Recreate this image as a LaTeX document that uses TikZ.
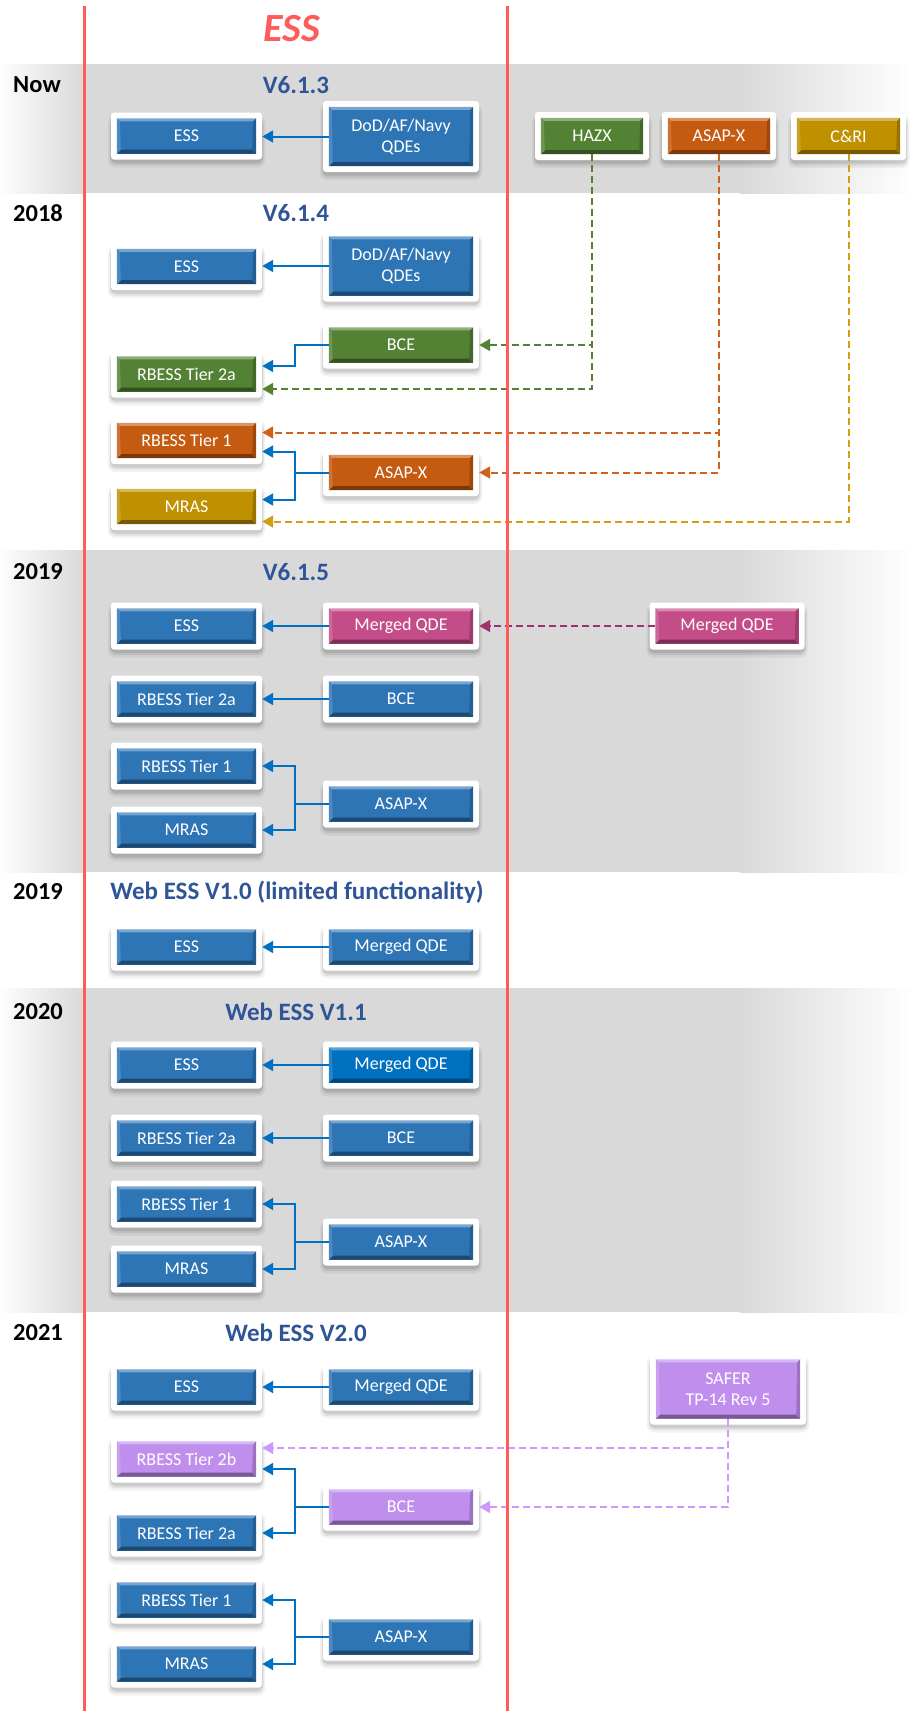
\documentclass[tikz,border=0pt]{standalone}
\usepackage{fontspec}
\setmainfont{Carlito}
\usetikzlibrary{arrows.meta,calc}
\definecolor{bandgray}{RGB}{217,217,217}
\definecolor{redline}{RGB}{255,91,91}
\definecolor{titleblue}{RGB}{47,85,151}
\definecolor{connblue}{RGB}{0,112,192}
\definecolor{boxblue}{RGB}{46,117,182}
\definecolor{boxbluetwo}{RGB}{0,112,192}
\definecolor{boxgreen}{RGB}{84,130,53}
\definecolor{boxorange}{RGB}{197,90,17}
\definecolor{boxgold}{RGB}{191,144,0}
\definecolor{boxmag}{RGB}{196,76,136}
\definecolor{boxpurple}{RGB}{192,143,238}
\definecolor{dgreen}{RGB}{84,130,53}
\definecolor{dorange}{RGB}{205,100,30}
\definecolor{dgold}{RGB}{210,158,20}
\definecolor{dmag}{RGB}{160,48,110}
\definecolor{dpurple}{RGB}{204,153,255}

\tikzset{
  qb/.style={rectangle, inner sep=0pt, text=white, font=\fontsize{18}{21}\selectfont, align=center},
  conn/.style={draw=connblue, line width=2pt, -{Triangle[length=11pt,width=12pt]}, shorten >=6pt},
  dconn/.style={line width=2pt, dash pattern=on 7pt off 4pt, -{Triangle[length=11pt,width=12pt]}, shorten >=6pt},
  yearlbl/.style={anchor=west, font=\fontsize{24.5}{27}\selectfont\bfseries, text=black, inner sep=0pt},
  ttl/.style={font=\fontsize{25}{28}\selectfont\bfseries, text=titleblue, inner sep=0pt},
}

% #1 height (optional), #2 name, #3 x, #4 y, #5 width, #6 colour, #7 text
\newcommand\qbox[7][35]{%
  \begin{scope}[shift={(#3,#4)}]
    \fill[black,opacity=0.05,rounded corners=7] (-#5/2-9,-#1/2-3) rectangle (#5/2+9,#1/2+14);
    \fill[black,opacity=0.07,rounded corners=6] (-#5/2-7.5,-#1/2-1) rectangle (#5/2+7.5,#1/2+11.5);
    \fill[black,opacity=0.09,rounded corners=5] (-#5/2-6.5,-#1/2+1) rectangle (#5/2+6.5,#1/2+9.5);
    \fill[white,rounded corners=3] (-#5/2-6,-#1/2-6) rectangle (#5/2+6,#1/2+6);
  \end{scope}
  \node[qb, fill=#6, minimum width=#5pt, minimum height=#1pt] (#2) at (#3,#4) {#7};
  \fill[#6!65!white] (#2.north west) -- (#2.north east) -- ([shift={(-3pt,-3pt)}]#2.north east) -- ([shift={(3pt,-3pt)}]#2.north west) -- cycle;
  \fill[#6!62!black] (#2.south west) -- (#2.south east) -- ([shift={(-4pt,4pt)}]#2.south east) -- ([shift={(4pt,4pt)}]#2.south west) -- cycle;
  \fill[#6!85!white] (#2.north west) -- ([shift={(3pt,-3pt)}]#2.north west) -- ([shift={(4pt,4pt)}]#2.south west) -- (#2.south west) -- cycle;
  \fill[#6!80!black] (#2.north east) -- ([shift={(-3pt,-3pt)}]#2.north east) -- ([shift={(-4pt,4pt)}]#2.south east) -- (#2.south east) -- cycle;
}

\newcommand\band[2]{%
  \fill[bandgray] (85,#1) rectangle (740,#2);
  \shade[left color=white!96!bandgray, right color=bandgray] (0,#1) rectangle (85.5,#2);
  \shade[left color=bandgray, right color=white!96!bandgray] (739.5,#1) rectangle (910,#2);
}

\begin{document}
\begin{tikzpicture}[x=1pt,y=-1pt]
\useasboundingbox (0,0) rectangle (910,1711);
\fill[white] (0,0) rectangle (910,1711);

% bands
\band{64}{193}
\band{550}{872}
\band{988}{1312}

% header
\node[font=\fontsize{40}{44}\selectfont\bfseries\itshape, text=redline, inner sep=0pt] (esstitle) at (292,29) {ESS};

% year labels
\node[yearlbl] (ynow) at (13,85) {Now};
\node[yearlbl] (y18) at (13,213) {2018};
\node[yearlbl] (y19) at (13,572) {2019};
\node[yearlbl] (y19w) at (13,892) {2019};
\node[yearlbl] (y20) at (13,1012) {2020};
\node[yearlbl] (y21) at (13,1333) {2021};

% titles
\node[ttl] (t0) at (296,85) {V6.1.3};
\node[ttl] (t1) at (296,213) {V6.1.4};
\node[ttl] (t2) at (296,572) {V6.1.5};
\node[ttl] (t3) at (297,892) {Web ESS V1.0 (limited functionality)};
\node[ttl] (t4) at (296,1012) {Web ESS V1.1};
\node[ttl] (t5) at (296,1333) {Web ESS V2.0};

% Now
\qbox{n0ess}{186.5}{136}{139}{boxblue}{ESS}
\qbox[59]{n0dod}{401}{136.5}{144}{boxblue}{DoD/AF/Navy\\QDEs}
\qbox[36]{hazx}{592}{136}{102}{boxgreen}{HAZX}
\qbox[36]{asapx}{719}{136}{102}{boxorange}{ASAP-X}
\qbox[36]{cri}{848.5}{136}{103}{boxgold}{C\&RI}

% 2018
\qbox{aess}{186.5}{266.5}{139}{boxblue}{ESS}
\qbox[59]{adod}{401}{266}{144}{boxblue}{DoD/AF/Navy\\QDEs}
\qbox{abce}{401}{345}{144}{boxgreen}{BCE}
\qbox{atwoa}{186.5}{374}{139}{boxgreen}{RBESS Tier 2a}
\qbox{aone}{186.5}{440.5}{139}{boxorange}{RBESS Tier 1}
\qbox{aasap}{401}{472.5}{144}{boxorange}{ASAP-X}
\qbox{amras}{186.5}{506.5}{139}{boxgold}{MRAS}

% 2019
\qbox{bess}{186.5}{626}{139}{boxblue}{ESS}
\qbox{bmqde}{401}{626}{144}{boxmag}{Merged QDE}
\qbox{xmqde}{727}{626}{143}{boxmag}{Merged QDE}
\qbox{btwoa}{186.5}{699}{139}{boxblue}{RBESS Tier 2a}
\qbox{bbce}{401}{699}{144}{boxblue}{BCE}
\qbox{bone}{186.5}{766}{139}{boxblue}{RBESS Tier 1}
\qbox{basap}{401}{804}{144}{boxblue}{ASAP-X}
\qbox{bmras}{186.5}{830}{139}{boxblue}{MRAS}

% 2019 web
\qbox{cess}{186.5}{947}{139}{boxblue}{ESS}
\qbox{cmqde}{401}{947}{144}{boxblue}{Merged QDE}

% 2020
\qbox{dess}{186.5}{1065}{139}{boxblue}{ESS}
\qbox{dmqde}{401}{1065}{144}{boxbluetwo}{Merged QDE}
\qbox{dtwoa}{186.5}{1138}{139}{boxblue}{RBESS Tier 2a}
\qbox{dbce}{401}{1138}{144}{boxblue}{BCE}
\qbox{done}{186.5}{1204}{139}{boxblue}{RBESS Tier 1}
\qbox{dasap}{401}{1242}{144}{boxblue}{ASAP-X}
\qbox{dmras}{186.5}{1269}{139}{boxblue}{MRAS}

% 2021
\qbox{eess}{186.5}{1387}{139}{boxblue}{ESS}
\qbox{emqde}{401}{1387}{144}{boxblue}{Merged QDE}
\qbox[59]{safer}{728}{1389}{144}{boxpurple}{SAFER\\TP-14 Rev 5}
\qbox{etwob}{186.5}{1459}{139}{boxpurple}{RBESS Tier 2b}
\qbox{ebce}{401}{1507}{144}{boxpurple}{BCE}
\qbox{etwoa}{186.5}{1533}{139}{boxblue}{RBESS Tier 2a}
\qbox{eone}{186.5}{1600}{139}{boxblue}{RBESS Tier 1}
\qbox{easap}{401}{1637}{144}{boxblue}{ASAP-X}
\qbox{emras}{186.5}{1664}{139}{boxblue}{MRAS}

% connectors: Now
\draw[conn] (n0dod.west) -- (n0dod.west -| n0ess.east);

% 2018
\draw[conn] (adod.west) -- (adod.west -| aess.east);
\draw[conn] (abce.west) -- ++(-34,0) |- ([yshift=8pt]atwoa.east);
\draw[conn] (aasap.west) -- ++(-34,0) |- ([yshift=-11pt]aone.east);
\draw[conn] (aasap.west) -- ++(-34,0) |- ([yshift=7pt]amras.east);
\draw[dconn, draw=dgreen] (hazx.south) |- (abce.east);
\draw[dconn, draw=dgreen] (hazx.south) |- ([yshift=-15pt]atwoa.east);
\draw[dconn, draw=dorange] (asapx.south) |- ([yshift=8pt]aone.east);
\draw[dconn, draw=dorange] (asapx.south) |- (aasap.east);
\draw[dconn, draw=dgold] (cri.south) |- ([yshift=-15pt]amras.east);

% 2019
\draw[conn] (bmqde.west) -- (bmqde.west -| bess.east);
\draw[dconn, draw=dmag] (xmqde.west) -- (xmqde.west -| bmqde.east);
\draw[conn] (bbce.west) -- (bbce.west -| btwoa.east);
\draw[conn] (basap.west) -- ++(-34,0) |- (bone.east);
\draw[conn] (basap.west) -- ++(-34,0) |- (bmras.east);

% 2019 web
\draw[conn] (cmqde.west) -- (cmqde.west -| cess.east);

% 2020
\draw[conn] (dmqde.west) -- (dmqde.west -| dess.east);
\draw[conn] (dbce.west) -- (dbce.west -| dtwoa.east);
\draw[conn] (dasap.west) -- ++(-34,0) |- (done.east);
\draw[conn] (dasap.west) -- ++(-34,0) |- (dmras.east);

% 2021
\draw[conn] (emqde.west) -- (emqde.west -| eess.east);
\draw[conn] (ebce.west) -- ++(-34,0) |- ([yshift=-10pt]etwob.east);
\draw[conn] (ebce.west) -- ++(-34,0) |- (etwoa.east);
\draw[conn] (easap.west) -- ++(-34,0) |- (eone.east);
\draw[conn] (easap.west) -- ++(-34,0) |- (emras.east);
\draw[dconn, draw=dpurple] (safer.south) |- ([yshift=11pt]etwob.east);
\draw[dconn, draw=dpurple] (safer.south) |- (ebce.east);

% red column lines
\draw[redline, line width=3pt] (84,6) -- (84,1711);
\draw[redline, line width=3pt] (507,6) -- (507,1711);
\end{tikzpicture}
\end{document}
